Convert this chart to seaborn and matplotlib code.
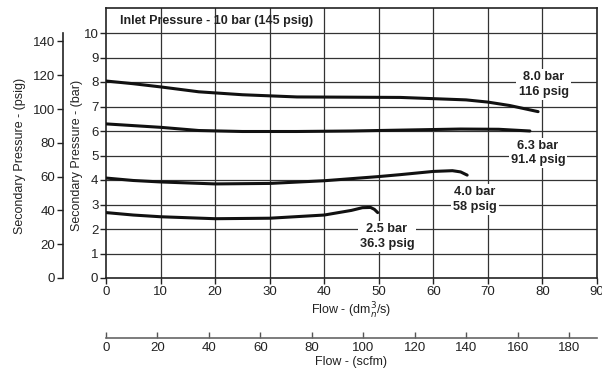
import matplotlib
matplotlib.use("Agg")
import matplotlib.pyplot as plt
import pandas as pd
import seaborn as sns

# curves: flow in dm3n/s, secondary pressure in bar
flow_80 = [0, 5, 10, 17, 25, 35, 45, 54, 60, 66, 70, 74, 79.2]
bar_80 = [8.04, 7.93, 7.8, 7.6, 7.48, 7.39, 7.38, 7.37, 7.32, 7.27, 7.18, 7.04, 6.79]
flow_63 = [0, 5, 10, 17, 25, 35, 45, 55, 65, 72, 77.7]
bar_63 = [6.29, 6.22, 6.15, 6.02, 5.98, 5.98, 6.0, 6.04, 6.08, 6.07, 6.0]
flow_40 = [0, 5, 10, 20, 30, 40, 50, 54, 60, 63.5, 65, 66.2]
bar_40 = [4.08, 3.98, 3.92, 3.84, 3.86, 3.97, 4.14, 4.22, 4.35, 4.38, 4.33, 4.2]
flow_25 = [0, 5, 10, 20, 30, 40, 45, 47, 48.5, 49.2, 49.8]
bar_25 = [2.67, 2.57, 2.5, 2.42, 2.44, 2.57, 2.76, 2.87, 2.88, 2.8, 2.67]

curve_names = ["8.0 bar", "6.3 bar", "4.0 bar", "2.5 bar"]
curve_labels = ["8.0 bar\n116 psig", "6.3 bar\n91.4 psig", "4.0 bar\n58 psig", "2.5 bar\n36.3 psig"]
label_xy = [(80.2, 7.9), (79.2, 5.1), (67.6, 3.2), (51.5, 1.7)]

bar_ticks = list(range(0, 11))
psig_ticks = list(range(0, 141, 20))
flow_ticks = list(range(0, 91, 10))
scfm_ticks = list(range(0, 181, 20))

PSIG_PER_BAR = 14.5
SCFM_PER_DM3S = 2.119

df = pd.concat([
    pd.DataFrame({"flow": f, "bar": b, "curve": n})
    for f, b, n in zip([flow_80, flow_63, flow_40, flow_25],
                       [bar_80, bar_63, bar_40, bar_25], curve_names)
])

sns.set_theme(style="white")
plt.rcParams["font.family"] = ["Liberation Sans", "DejaVu Sans"]
txt = "#222222"

fig = plt.figure(figsize=(6.02, 3.71), dpi=100)
ax = fig.add_axes([106 / 602, 1 - 278 / 371, 491 / 602, 270 / 371])
ymax = 270 / 24.5

# grid
for v in flow_ticks[1:-1]:
    ax.axvline(v, color="#333333", lw=0.9, zorder=1)
for h in bar_ticks[1:]:
    ax.axhline(h, color="#333333", lw=0.9, zorder=1)

sns.lineplot(data=df, x="flow", y="bar", hue="curve", units="curve",
             estimator=None, sort=False, palette=["#111111"] * 4,
             lw=2.2, legend=False, ax=ax, zorder=3)

ax.set_xlim(0, 90)
ax.set_ylim(0, ymax)
ax.set_xticks(flow_ticks)
ax.set_yticks(bar_ticks)
for s in ax.spines.values():
    s.set_color("#222222")
    s.set_linewidth(1.2)
ax.tick_params(axis="both", direction="out", length=4, width=1, color="#222222",
               labelsize=9.5, labelcolor=txt, pad=1.5, left=True, bottom=True)
ax.set_xlabel("Flow - (dm$^3_n$/s)", fontsize=9, color=txt, labelpad=2)
ax.set_ylabel("Secondary Pressure - (bar)", fontsize=9, color=txt)
ax.yaxis.set_label_coords(-0.046, 10 / ymax / 2)

ax.text(2.5, 10.5, "Inlet Pressure - 10 bar (145 psig)", fontsize=9,
        fontweight="bold", color=txt, va="center", ha="left")

for lab, (lx, ly) in zip(curve_labels, label_xy):
    ax.text(lx, ly, lab, ha="center", va="center", fontsize=9.2,
            fontweight="bold", color=txt, linespacing=1.3, zorder=4,
            bbox=dict(facecolor="white", edgecolor="none", pad=1.5))

# psig axis on the far left
ax2 = ax.twinx()
ax2.set_ylim(0, ymax * PSIG_PER_BAR)
ax2.yaxis.set_ticks_position("left")
ax2.yaxis.set_label_position("left")
for k in ["top", "right", "bottom"]:
    ax2.spines[k].set_visible(False)
ax2.spines["left"].set_position(("outward", 31))
ax2.spines["left"].set_bounds(0, 10 * PSIG_PER_BAR)
ax2.spines["left"].set_color("#222222")
ax2.spines["left"].set_linewidth(1.2)
ax2.set_yticks(psig_ticks)
ax2.tick_params(axis="y", direction="out", length=4, width=1, color="#222222",
                labelsize=9.5, labelcolor=txt, pad=1.5, left=True, right=False)
ax2.set_ylabel("Secondary Pressure - (psig)", fontsize=9, color=txt)
ax2.yaxis.set_label_coords(-0.163, 10 / ymax / 2)

# scfm axis below
sec = ax.secondary_xaxis(-60 / 270, functions=(lambda x: x * SCFM_PER_DM3S,
                                              lambda x: x / SCFM_PER_DM3S))
sec.set_xticks(scfm_ticks)
sec.spines["bottom"].set_color("#666666")
sec.spines["bottom"].set_linewidth(1.2)
sec.tick_params(axis="x", direction="in", length=4, width=1, color="#555555",
                labelsize=9.5, labelcolor=txt, pad=3)
sec.set_xlabel("Flow - (scfm)", fontsize=9, color=txt, labelpad=1)

fig.savefig("out.png", dpi=100)
